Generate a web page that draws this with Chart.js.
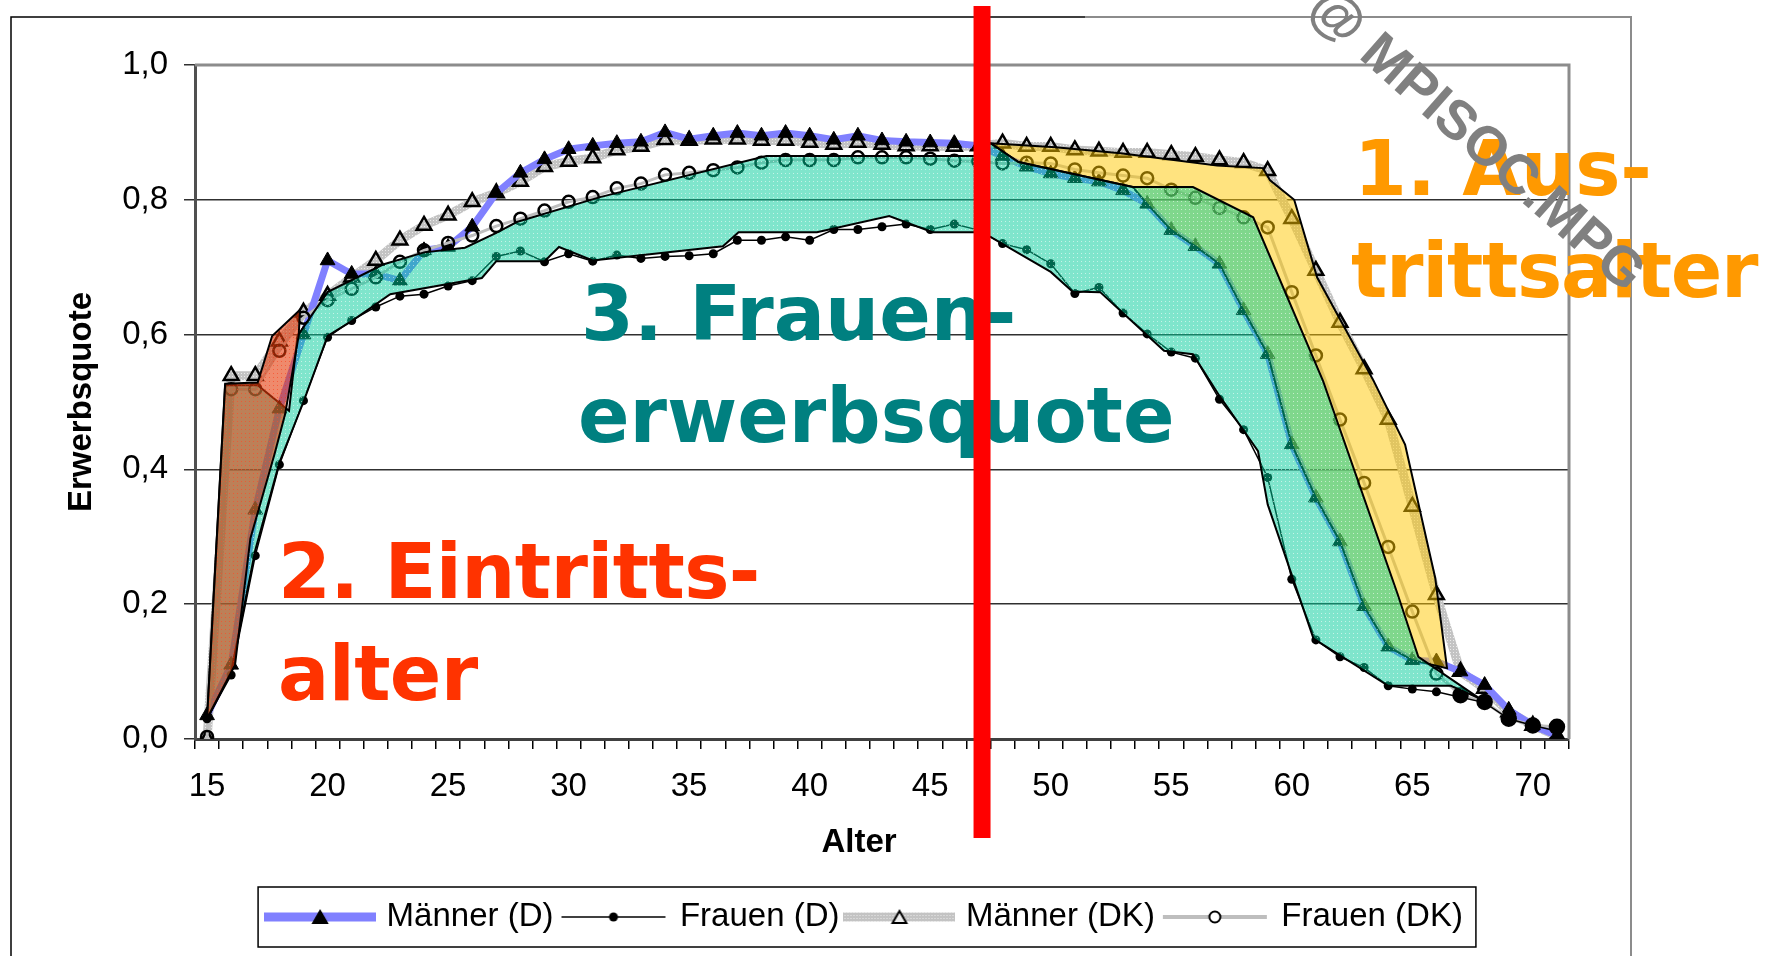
<!DOCTYPE html>
<html lang="de">
<head>
  <meta charset="UTF-8">
  <title>Erwerbsquote D / DK</title>
  <style>
    html, body { margin: 0; padding: 0; background: #fff; }
  </style>
</head>
<body>
  <canvas id="myChart" width="1776" height="956"></canvas>
  <script src="https://cdn.jsdelivr.net/npm/chart.js@4.4.1/dist/chart.umd.min.js"></script>
  <script>
    // Alter 15..71, eine Kategorie pro Jahr
    const alter = [15, 16, 17, 18, 19, 20, 21, 22, 23, 24, 25, 26, 27, 28, 29, 30, 31, 32, 33, 34, 35, 36, 37, 38, 39,
      40, 41, 42, 43, 44, 45, 46, 47, 48, 49, 50, 51, 52, 53, 54, 55, 56, 57, 58, 59, 60, 61, 62, 63, 64, 65, 66, 67, 68, 69, 70, 71];
    const xBeschriftung = [15, 20, 25, 30, 35, 40, 45, 50, 55, 60, 65, 70];
    const yWerte = [0, 0.2, 0.4, 0.6, 0.8, 1.0];

    const maennerD = [0.035, 0.11, 0.34, 0.49, 0.60, 0.71, 0.69, 0.69, 0.68, 0.725, 0.73, 0.76, 0.81, 0.84, 0.86, 0.875, 0.88,
      0.884, 0.886, 0.90, 0.89, 0.895, 0.899, 0.895, 0.899, 0.895, 0.889, 0.895, 0.888, 0.886, 0.885, 0.884, 0.88, 0.865,
      0.849, 0.839, 0.832, 0.827, 0.814, 0.794, 0.755, 0.731, 0.705, 0.636, 0.571, 0.437, 0.358, 0.293, 0.197, 0.137,
      0.117, 0.115, 0.10, 0.08, 0.043, 0.02, 0.005];
    const frauenD = [0.03, 0.095, 0.272, 0.407, 0.502, 0.596, 0.621, 0.641, 0.657, 0.66, 0.672, 0.68, 0.716, 0.724, 0.708,
      0.72, 0.709, 0.718, 0.713, 0.716, 0.717, 0.72, 0.74, 0.74, 0.745, 0.74, 0.756, 0.756, 0.76, 0.764, 0.756, 0.764,
      0.755, 0.735, 0.726, 0.705, 0.661, 0.67, 0.632, 0.601, 0.574, 0.565, 0.504, 0.459, 0.388, 0.237, 0.147, 0.122,
      0.106, 0.079, 0.074, 0.07, 0.062, 0.054, 0.03, 0.02, 0.012];
    const maennerDK = [0.0, 0.539, 0.539, 0.59, 0.633, 0.658, 0.685, 0.71, 0.74, 0.762, 0.777, 0.797, 0.81, 0.827, 0.849,
      0.857, 0.862, 0.874, 0.879, 0.889, 0.888, 0.89, 0.89, 0.888, 0.888, 0.885, 0.882, 0.885, 0.882, 0.88, 0.88, 0.879,
      0.88, 0.884, 0.879, 0.879, 0.874, 0.872, 0.87, 0.87, 0.867, 0.864, 0.859, 0.855, 0.843, 0.772, 0.695, 0.618, 0.549,
      0.474, 0.345, 0.214, 0.10, 0.075, 0.04, 0.02, 0.005];
    const frauenDK = [0.003, 0.519, 0.519, 0.576, 0.625, 0.651, 0.668, 0.685, 0.708, 0.725, 0.736, 0.747, 0.761, 0.772,
      0.784, 0.797, 0.804, 0.817, 0.824, 0.837, 0.84, 0.844, 0.848, 0.855, 0.859, 0.859, 0.859, 0.863, 0.863, 0.863, 0.861,
      0.858, 0.857, 0.854, 0.855, 0.854, 0.845, 0.84, 0.836, 0.832, 0.815, 0.803, 0.788, 0.774, 0.759, 0.663, 0.569,
      0.474, 0.38, 0.285, 0.189, 0.097, 0.065, 0.055, 0.03, 0.02, 0.018];

    // hervorgehobene Flaechen, Eckpunkte als [Alter, Quote]
    const flaecheEintritt = [[15, 0.03], [15.75, 0.527], [17.1, 0.529], [17.7, 0.598], [18.86, 0.637], [18.8, 0.598],
      [18.24, 0.482], [17.8, 0.423], [16.8, 0.298], [16.16, 0.11], [15, 0.03]];
    const flaecheFrauen = [[15, 0.03], [15.75, 0.525], [17.1, 0.525], [18.4, 0.487], [18.75, 0.598], [20, 0.663],
      [22.3, 0.704], [24, 0.722], [25.7, 0.729], [27, 0.751], [27.85, 0.767], [31.3, 0.804], [38.2, 0.865], [46.8, 0.865],
      [47.5, 0.884], [48.66, 0.856], [53.4, 0.819], [55.9, 0.819], [58.4, 0.774], [61.3, 0.531], [64.4, 0.214],
      [65.25, 0.122], [67.8, 0.06], [66.6, 0.079], [64, 0.079], [60.9, 0.149], [59, 0.348], [58.6, 0.427], [57, 0.509],
      [55.9, 0.571], [54.7, 0.576], [52.05, 0.663], [50.9, 0.664], [50, 0.693], [47.5, 0.745], [46.8, 0.752],
      [45.1, 0.752], [43.3, 0.776], [40.3, 0.752], [37.05, 0.752], [36.4, 0.731], [31, 0.71], [29.6, 0.73], [29, 0.709],
      [27, 0.709], [26.4, 0.684], [22.6, 0.66], [21, 0.62], [20, 0.598], [19, 0.50], [18, 0.41], [17, 0.28], [16, 0.10],
      [15, 0.03]];
    const flaecheAustritt = [[47.5, 0.884], [50.2, 0.878], [52.9, 0.869], [56.9, 0.851], [58.8, 0.847], [59.1, 0.829],
      [60.1, 0.80], [61.05, 0.685], [63.4, 0.531], [64.7, 0.437], [65.95, 0.239], [66.44, 0.105], [65, 0.117],
      [64, 0.137], [63, 0.197], [62, 0.293], [61, 0.358], [60, 0.437], [59, 0.571], [58, 0.636], [57, 0.705],
      [56, 0.731], [55, 0.755], [54, 0.794], [53.4, 0.819], [48.66, 0.856], [47.5, 0.884]];

    const markierungAlter = 47.15;

    const punkte = (werte) => alter.map((a, i) => ({ x: a, y: werte[i] }));
    const ecken = (liste) => liste.map(([x, y]) => ({ x, y }));

    function muster(grund, punkt, schritt) {
      const c = document.createElement('canvas');
      c.width = schritt; c.height = schritt;
      const g = c.getContext('2d');
      g.fillStyle = grund;
      g.fillRect(0, 0, schritt, schritt);
      if (punkt) {
        g.fillStyle = punkt;
        g.fillRect(1, 1, 1, 1);
      }
      return g.createPattern(c, 'repeat');
    }

    const tuerkis = muster('rgba(0,204,153,0.5)', 'rgba(255,255,255,0.55)', 4);
    const gelb = muster('rgba(255,200,0,0.5)', null, 4);
    const rot = muster('rgba(228,60,10,0.6)', 'rgba(255,40,0,0.45)', 4);
    const grauBand = muster('rgb(195,195,195)', 'rgb(235,235,235)', 3);

    // kleine Bilder fuer die Legende (Linie + Marker)
    function legendenBild(zeichne) {
      const c = document.createElement('canvas');
      c.width = 112; c.height = 24;
      const g = c.getContext('2d');
      zeichne(g);
      return c;
    }
    function dreieck(g, x, y, r) {
      g.beginPath();
      g.moveTo(x, y - r);
      g.lineTo(x + r * 0.866, y + r * 0.5);
      g.lineTo(x - r * 0.866, y + r * 0.5);
      g.closePath();
    }
    const legendenBilder = [
      legendenBild(g => {
        g.strokeStyle = 'rgb(128,128,255)'; g.lineWidth = 9;
        g.beginPath(); g.moveTo(0, 12); g.lineTo(112, 12); g.stroke();
        dreieck(g, 56, 14, 10); g.fillStyle = '#000'; g.fill();
      }),
      legendenBild(g => {
        g.strokeStyle = '#000'; g.lineWidth = 1.5;
        g.beginPath(); g.moveTo(4, 12); g.lineTo(108, 12); g.stroke();
        g.beginPath(); g.arc(56, 12, 4.5, 0, Math.PI * 2); g.fillStyle = '#000'; g.fill();
      }),
      legendenBild(g => {
        g.strokeStyle = grauBand; g.lineWidth = 9;
        g.beginPath(); g.moveTo(0, 12); g.lineTo(112, 12); g.stroke();
        dreieck(g, 56, 14, 8); g.fillStyle = '#eee'; g.fill();
        g.strokeStyle = '#000'; g.lineWidth = 2; g.stroke();
      }),
      legendenBild(g => {
        g.strokeStyle = 'rgb(190,190,190)'; g.lineWidth = 4;
        g.beginPath(); g.moveTo(4, 12); g.lineTo(108, 12); g.stroke();
        g.beginPath(); g.arc(56, 12, 5.5, 0, Math.PI * 2); g.fillStyle = '#fff'; g.fill();
        g.strokeStyle = '#000'; g.lineWidth = 2; g.stroke();
      })
    ];

    const schrift = '"Liberation Sans", Arial, sans-serif';

    const deko = {
      id: 'deko',
      beforeDraw(chart) {
        const { ctx } = chart;
        ctx.save();
        ctx.fillStyle = '#fff';
        ctx.fillRect(0, 0, chart.width, chart.height);
        ctx.restore();
      },
      beforeDatasetsDraw(chart) {
        const { ctx, chartArea: a } = chart;
        ctx.save();
        ctx.strokeStyle = '#8c8c8c';
        ctx.lineWidth = 3;
        ctx.beginPath();
        ctx.moveTo(a.left, a.top);
        ctx.lineTo(a.right, a.top);
        ctx.lineTo(a.right, a.bottom);
        ctx.stroke();
        ctx.restore();
      },
      afterDraw(chart) {
        const { ctx, chartArea: a, scales } = chart;
        ctx.save();

        // aeusserer Rahmen
        ctx.lineWidth = 1.5;
        ctx.strokeStyle = '#000';
        ctx.beginPath();
        ctx.moveTo(11, chart.height + 2); ctx.lineTo(11, 17); ctx.lineTo(1085, 17);
        ctx.stroke();
        ctx.strokeStyle = '#8c8c8c';
        ctx.lineWidth = 2;
        ctx.beginPath();
        ctx.moveTo(1085, 17); ctx.lineTo(1631, 17); ctx.lineTo(1631, chart.height + 2);
        ctx.stroke();

        // Achsentitel
        ctx.fillStyle = '#000';
        ctx.font = 'bold 33px ' + schrift;
        ctx.textAlign = 'center';
        ctx.textBaseline = 'middle';
        ctx.fillText('Alter', a.left + 664, a.bottom + 104);
        ctx.save();
        ctx.translate(82, (a.top + a.bottom) / 2);
        ctx.rotate(-Math.PI / 2);
        ctx.fillText('Erwerbsquote', 0, 0);
        ctx.restore();

        // Rahmen um die Legende
        const boxes = chart.legend.legendHitBoxes;
        if (boxes && boxes.length) {
          const l = boxes[0].left - 12;
          const last = boxes[boxes.length - 1];
          const r = last.left + last.width + 13;
          const mitte = boxes[0].top + boxes[0].height / 2;
          ctx.strokeStyle = '#000';
          ctx.lineWidth = 1.5;
          ctx.strokeRect(l, mitte - 30, r - l, 60);
        }

        // Beschriftungen der Flaechen
        ctx.textAlign = 'left';
        ctx.textBaseline = 'alphabetic';
        ctx.font = 'bold 76px "DejaVu Sans", Verdana, sans-serif';
        ctx.fillStyle = 'rgb(255,51,0)';
        ctx.letterSpacing = '-0.6px';
        ctx.fillText('2. Eintritts-', 278, 598);
        ctx.fillText('alter', 278, 700);
        ctx.letterSpacing = '0px';
        ctx.fillStyle = 'rgb(0,128,128)';
        ctx.fillText('3. Frauen-', 581, 340);
        ctx.fillText('erwerbsquote', 578, 442);
        ctx.fillStyle = 'rgb(255,153,0)';
        ctx.fillText('1. Aus-', 1354, 195);
        ctx.letterSpacing = '-1.3px';
        ctx.fillText('trittsalter', 1351, 297);
        ctx.letterSpacing = '0px';

        // rote Markierung
        const xm = scales.x.getPixelForValue(markierungAlter);
        ctx.fillStyle = '#ff0000';
        ctx.fillRect(xm - 8.5, 6, 17, a.bottom + 99 - 6);

        // Wasserzeichen
        ctx.save();
        ctx.translate(1316, 0);
        ctx.rotate(41.5 * Math.PI / 180);
        ctx.fillStyle = 'rgb(128,128,128)';
        ctx.font = 'bold 55px ' + schrift;
        ctx.textBaseline = 'middle';
        ctx.fillText('@ MPISOC.MPG', 0, 0);
        ctx.restore();

        ctx.restore();
      }
    };

    const ctx = document.getElementById('myChart');

    const myChart = new Chart(ctx, {
      type: 'line',
      data: {
        datasets: [
          {
            label: 'Männer (D)',
            data: punkte(maennerD),
            borderColor: 'rgb(128,128,255)',
            borderWidth: 7,
            pointStyle: 'triangle',
            pointRadius: 8.5,
            pointBackgroundColor: '#000',
            pointBorderColor: '#000',
            pointBorderWidth: 1,
            order: 7
          },
          {
            label: 'Frauen (D)',
            data: punkte(frauenD),
            borderColor: '#000',
            borderWidth: 1.5,
            pointStyle: 'circle',
            pointRadius: 4.5,
            pointBackgroundColor: '#000',
            pointBorderColor: '#000',
            pointBorderWidth: 0,
            order: 5
          },
          {
            label: 'Männer (DK)',
            data: punkte(maennerDK),
            borderColor: grauBand,
            borderWidth: 9,
            pointStyle: 'triangle',
            pointRadius: 8.5,
            pointBackgroundColor: 'rgba(0,0,0,0)',
            pointBorderColor: '#000',
            pointBorderWidth: 2.5,
            order: 8
          },
          {
            label: 'Frauen (DK)',
            data: punkte(frauenDK),
            borderColor: 'rgb(190,190,190)',
            borderWidth: 3,
            pointStyle: 'circle',
            pointRadius: (c) => (c.raw && c.raw.x >= 67 ? 7 : 6),
            pointBackgroundColor: (c) => (c.raw && c.raw.x >= 67 ? '#000' : 'rgba(0,0,0,0)'),
            pointBorderColor: '#000',
            pointBorderWidth: 2.5,
            order: 6
          },
          {
            label: 'Austrittsalter',
            data: ecken(flaecheAustritt),
            borderColor: '#000',
            borderWidth: 2,
            backgroundColor: gelb,
            fill: 'shape',
            pointRadius: 0,
            order: 4
          },
          {
            label: 'Frauenerwerbsquote',
            data: ecken(flaecheFrauen),
            borderColor: '#000',
            borderWidth: 2,
            backgroundColor: tuerkis,
            fill: 'shape',
            pointRadius: 0,
            order: 3
          },
          {
            label: 'Eintrittsalter',
            data: ecken(flaecheEintritt),
            borderColor: '#000',
            borderWidth: 2,
            backgroundColor: rot,
            fill: 'shape',
            pointRadius: 0,
            order: 2
          }
        ]
      },
      options: {
        responsive: false,
        animation: false,
        devicePixelRatio: 1,
        events: [],
        elements: { line: { tension: 0 } },
        layout: { padding: { left: 0, right: 43, top: 65, bottom: 12.5 } },
        plugins: {
          tooltip: { enabled: false },
          legend: {
            position: 'bottom',
            labels: {
              usePointStyle: true,
              pointStyleWidth: 100,
              padding: 10,
              color: '#000',
              font: { family: schrift, size: 33 },
              generateLabels(chart) {
                const items = Chart.defaults.plugins.legend.labels.generateLabels(chart);
                return items
                  .filter(i => i.datasetIndex < 4)
                  .sort((p, q) => p.datasetIndex - q.datasetIndex)
                  .map(i => Object.assign(i, { pointStyle: legendenBilder[i.datasetIndex], rotation: 0 }));
              }
            }
          }
        },
        scales: {
          x: {
            type: 'linear',
            min: alter[0] - 0.5,
            max: alter[alter.length - 1] + 0.5,
            afterBuildTicks(s) {
              s.ticks = alter.map(a => ({ value: a - 0.5 })).concat([{ value: alter[alter.length - 1] + 0.5 }]);
            },
            afterFit(s) { s.height = 151.5; },
            ticks: {
              autoSkip: false,
              maxRotation: 0,
              labelOffset: 12,
              padding: 18,
              color: '#000',
              font: { family: schrift, size: 33 },
              callback(v) {
                const a = Math.round(v + 0.5);
                return xBeschriftung.includes(a) ? String(a) : '';
              }
            },
            grid: { drawOnChartArea: false, drawTicks: true, tickLength: 10, color: '#000', lineWidth: 1.5 },
            border: { display: true, color: '#404040', width: 3 }
          },
          y: {
            type: 'linear',
            min: 0,
            max: 1,
            afterBuildTicks(s) { s.ticks = yWerte.map(v => ({ value: v })); },
            afterFit(s) { s.width = 195; },
            ticks: {
              padding: 16,
              color: '#000',
              font: { family: schrift, size: 33 },
              callback: (v) => Number(v).toFixed(1).replace('.', ',')
            },
            grid: { color: '#303030', lineWidth: 1.5, tickLength: 11, drawTicks: true },
            border: { display: true, color: '#505050', width: 3 }
          },
          yR: {
            type: 'linear',
            position: 'right',
            grid: { display: false, drawTicks: false },
            ticks: { display: false },
            border: { display: false },
            afterFit(s) { s.width = 164; }
          }
        }
      },
      plugins: [deko]
    });
  </script>
</body>
</html>
